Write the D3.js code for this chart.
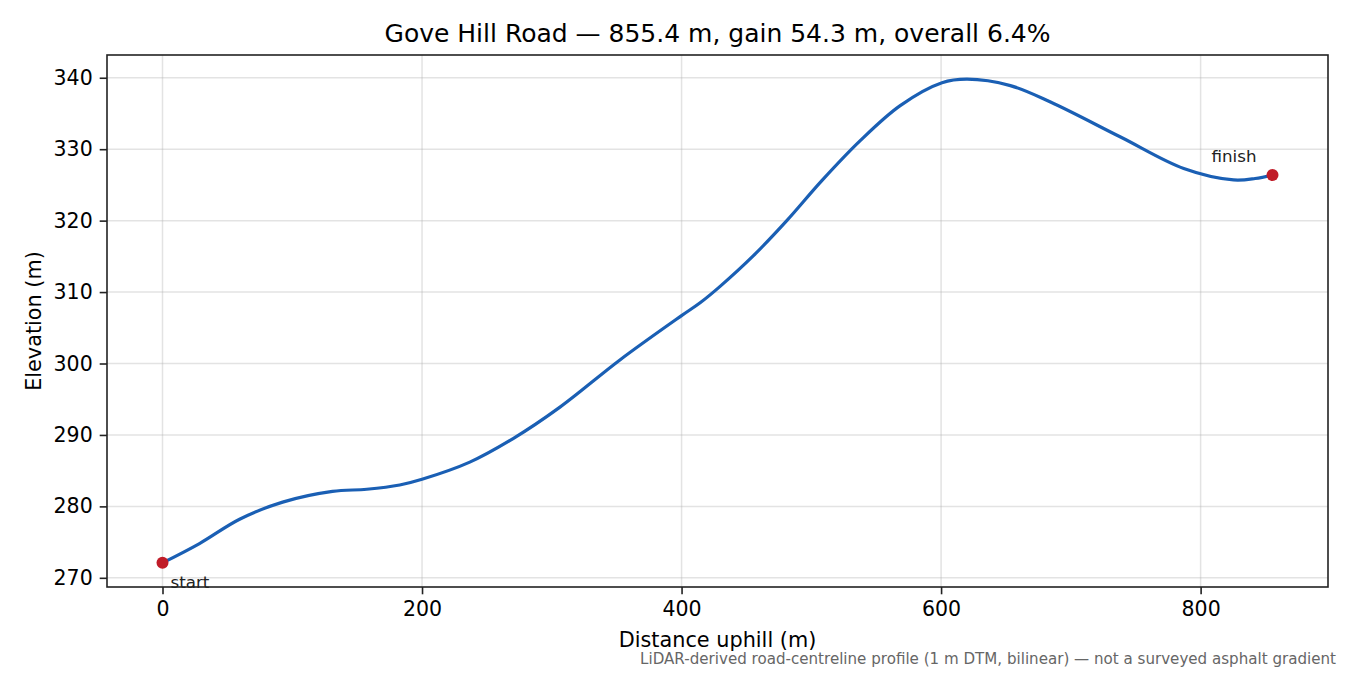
<!DOCTYPE html>
<html>
<head>
<meta charset="utf-8">
<script src="https://cdn.jsdelivr.net/npm/d3@7"></script>
<style>
  body { margin: 0; background: #fff; }
  text { font-family: "DejaVu Sans", sans-serif; }
</style>
</head>
<body>
<div id="chart"></div>
<script>
//Profile: distance uphill (m) and elevation (m)
var distances = [0, 28.5, 59.4, 92.6, 131, 157.4, 182.8, 200, 236.8, 270.2, 306.3, 352.5, 400, 414.3, 429.7, 455.4, 481.1, 508.1, 537.7, 568.5, 600.7, 620, 653.4, 684.3, 738.3, 787, 825.4, 842, 855.4];
var elevations = [272.1, 274.8, 278.2, 280.6, 282.1, 282.4, 283.0, 283.8, 286.2, 289.5, 293.9, 300.5, 306.7, 308.5, 310.8, 315.1, 320.0, 325.6, 331.2, 336.1, 339.3, 339.8, 338.9, 336.6, 331.7, 327.3, 325.7, 325.9, 326.4];

//Axis ticks
var xTicks = [0, 200, 400, 600, 800];
var yTicks = [270, 280, 290, 300, 310, 320, 330, 340];

//Texts
var titleText = "Gove Hill Road \u2014 855.4 m, gain 54.3 m, overall 6.4%";
var xLabel = "Distance uphill (m)";
var yLabel = "Elevation (m)";
var noteText = "LiDAR-derived road-centreline profile (1 m DTM, bilinear) \u2014 not a surveyed asphalt gradient";

//Layout
var width = 1350;
var height = 675;
var plotLeft = 107, plotRight = 1328, plotTop = 55, plotBottom = 587;

var colorLine = "#1a5fb4";
var colorDot = "#c01c28";
var colorAxis = "#222";

var points = distances.map(function (d, i) { return [d, elevations[i]]; });

var xMin = d3.min(distances), xMax = d3.max(distances);
var yMin = d3.min(elevations), yMax = d3.max(elevations);
var xPad = (xMax - xMin) * 0.05;
var yPad = (yMax - yMin) * 0.05;

var x = d3.scaleLinear().domain([xMin - xPad, xMax + xPad]).range([plotLeft, plotRight]);
var y = d3.scaleLinear().domain([yMin - yPad, yMax + yPad]).range([plotBottom, plotTop]);

var svg = d3.select("#chart").append("svg")
    .attr("width", width)
    .attr("height", height);

//Grid
svg.append("g").selectAll("line").data(xTicks).join("line")
    .attr("x1", function (d) { return x(d); })
    .attr("x2", function (d) { return x(d); })
    .attr("y1", plotTop).attr("y2", plotBottom)
    .attr("stroke", "#b0b0b0").attr("stroke-opacity", 0.35).attr("stroke-width", 1.5);

svg.append("g").selectAll("line").data(yTicks).join("line")
    .attr("y1", function (d) { return y(d); })
    .attr("y2", function (d) { return y(d); })
    .attr("x1", plotLeft).attr("x2", plotRight)
    .attr("stroke", "#b0b0b0").attr("stroke-opacity", 0.35).attr("stroke-width", 1.5);

//Axes
var xAxis = svg.append("g")
    .attr("transform", "translate(0," + plotBottom + ")")
    .call(d3.axisBottom(x).tickValues(xTicks).tickSize(7.3).tickPadding(7).tickFormat(d3.format("d")));
var yAxis = svg.append("g")
    .attr("transform", "translate(" + plotLeft + ",0)")
    .call(d3.axisLeft(y).tickValues(yTicks).tickSize(7.3).tickPadding(7).tickFormat(d3.format("d")));

[xAxis, yAxis].forEach(function (a) {
    a.select(".domain").remove();
    a.selectAll(".tick line").attr("stroke", colorAxis).attr("stroke-width", 1.6);
    a.selectAll(".tick text").attr("fill", "#000").attr("font-size", 20.5)
        .attr("font-family", "DejaVu Sans");
});

//Frame
svg.append("rect")
    .attr("x", plotLeft).attr("y", plotTop)
    .attr("width", plotRight - plotLeft).attr("height", plotBottom - plotTop)
    .attr("fill", "none").attr("stroke", colorAxis).attr("stroke-width", 1.6);

//Profile line
var line = d3.line()
    .x(function (d) { return x(d[0]); })
    .y(function (d) { return y(d[1]); })
    .curve(d3.curveCatmullRom.alpha(0.5));

svg.append("path")
    .datum(points)
    .attr("d", line)
    .attr("fill", "none")
    .attr("stroke", colorLine)
    .attr("stroke-width", 3.2)
    .attr("stroke-linejoin", "round");

//Start and finish markers
var ends = [points[0], points[points.length - 1]];
svg.append("g").selectAll("circle").data(ends).join("circle")
    .attr("cx", function (d) { return x(d[0]); })
    .attr("cy", function (d) { return y(d[1]); })
    .attr("r", 6)
    .attr("fill", colorDot);

svg.append("text")
    .attr("x", x(ends[0][0]) + 8)
    .attr("y", y(ends[0][1]) + 25)
    .attr("font-size", 16.7)
    .attr("fill", "#222")
    .text("start");

svg.append("text")
    .attr("x", x(ends[1][0]) - 16)
    .attr("y", y(ends[1][1]) - 13)
    .attr("text-anchor", "end")
    .attr("font-size", 16.7)
    .attr("fill", "#222")
    .text("finish");

//Title and labels
svg.append("text")
    .attr("x", (plotLeft + plotRight) / 2)
    .attr("y", 42)
    .attr("text-anchor", "middle")
    .attr("font-size", 25)
    .text(titleText);

svg.append("text")
    .attr("x", (plotLeft + plotRight) / 2)
    .attr("y", 647)
    .attr("text-anchor", "middle")
    .attr("font-size", 20.8)
    .text(xLabel);

svg.append("text")
    .attr("transform", "translate(41," + (plotTop + plotBottom) / 2 + ") rotate(-90)")
    .attr("text-anchor", "middle")
    .attr("font-size", 20.8)
    .text(yLabel);

svg.append("text")
    .attr("x", 1336)
    .attr("y", 664)
    .attr("text-anchor", "end")
    .attr("font-size", 15.1)
    .attr("fill", "#666")
    .text(noteText);
</script>
</body>
</html>
